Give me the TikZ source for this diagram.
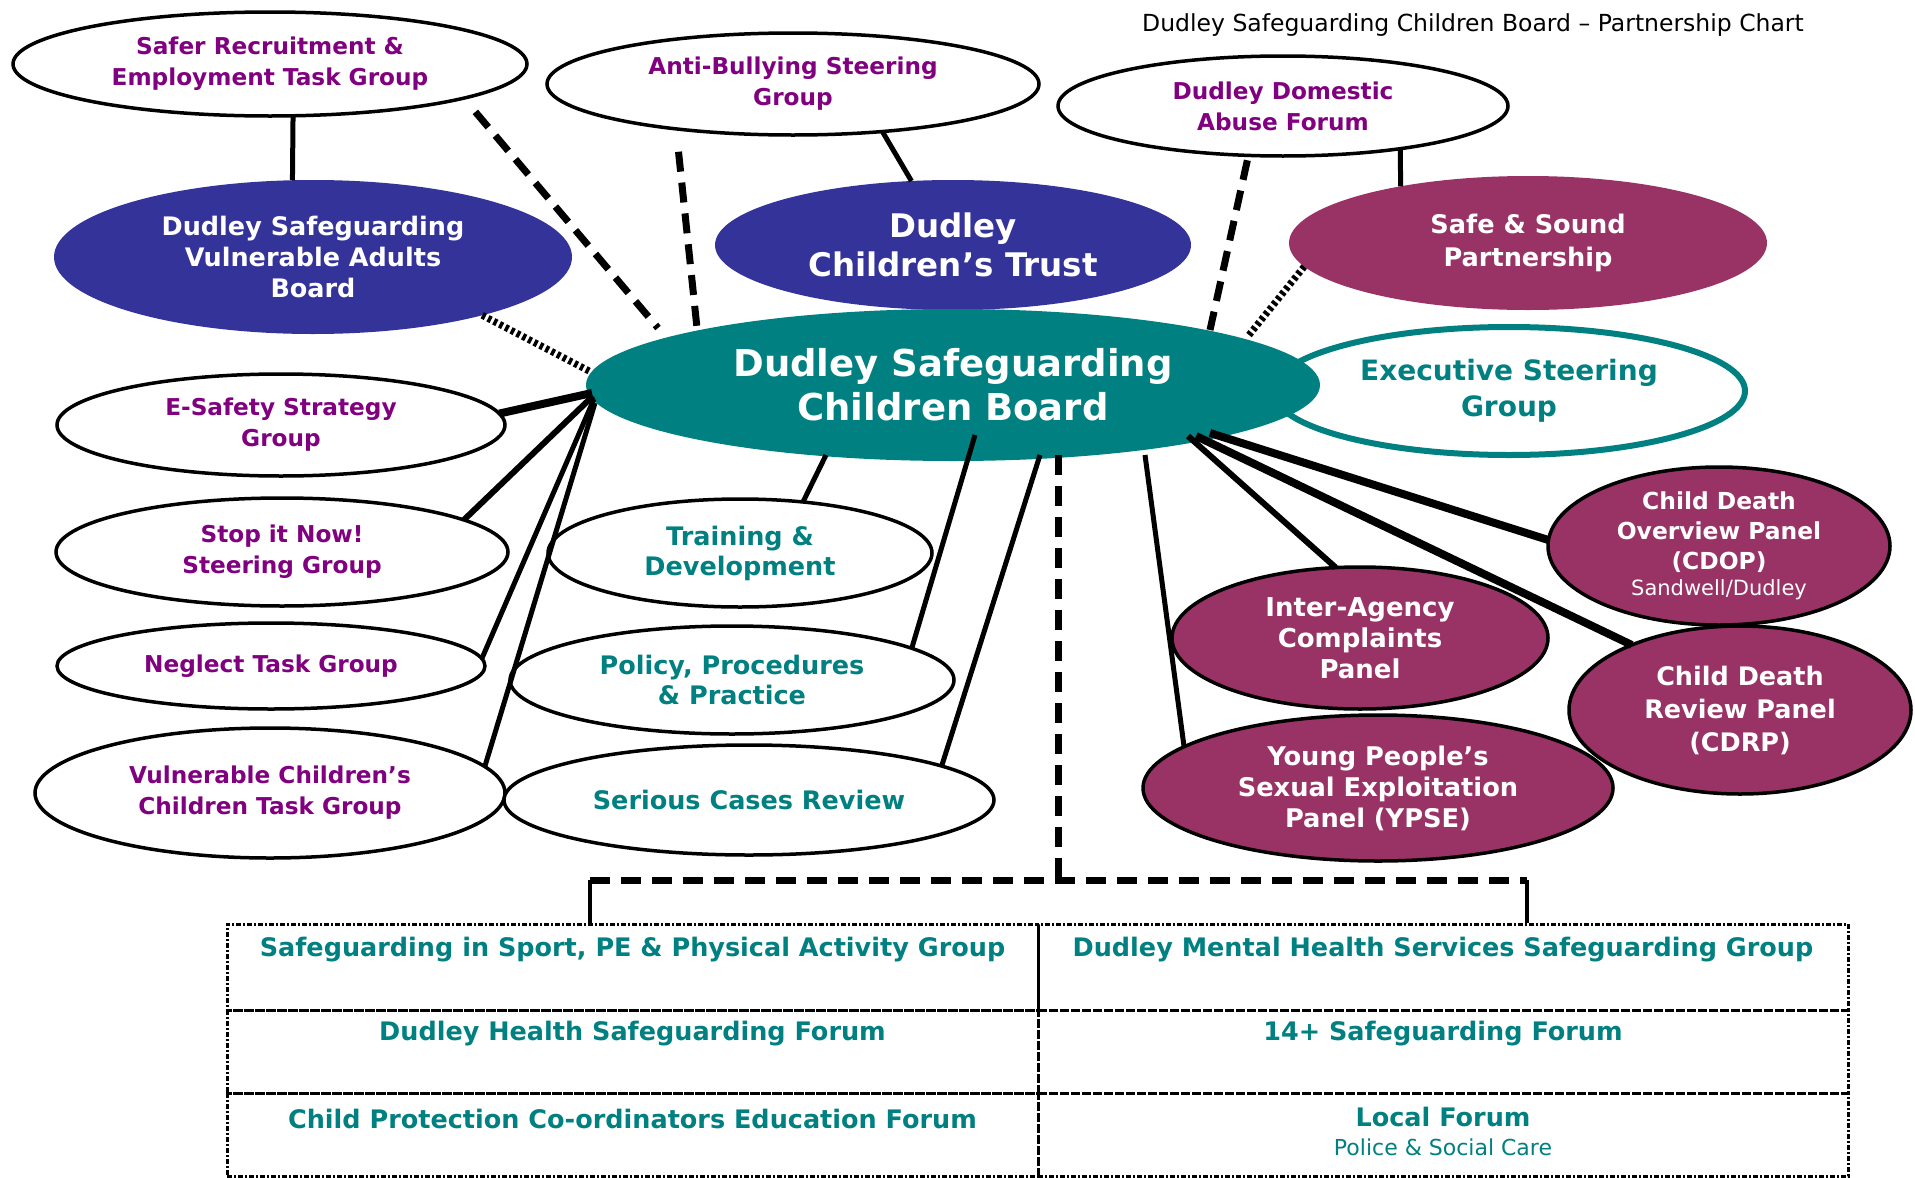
\documentclass[tikz,border=0pt]{standalone}
\usepackage{fontspec}
\setmainfont{DejaVu Sans}
\usetikzlibrary{shapes.geometric}
\definecolor{dblue}{RGB}{51,51,153}
\definecolor{dteal}{RGB}{0,128,128}
\definecolor{dmaroon}{RGB}{153,51,102}
\definecolor{dpurple}{RGB}{128,0,128}
\newcommand\myfs[2]{\fontsize{#1}{#2}\selectfont}
\begin{document}
\begin{tikzpicture}[x=1pt,y=-1pt,
  ell/.style={ellipse, inner sep=0pt, outer sep=0pt, align=center},
  wgrp/.style={ell, draw=black, line width=3.5pt, fill=white, text=dpurple, font=\bfseries\myfs{23.2}{31}},
  tgrp/.style={ell, draw=black, line width=3.5pt, fill=white, text=dteal, font=\bfseries\myfs{25.5}{30}},
  bluef/.style={ell, fill=dblue, text=white},
  maroonf/.style={ell, fill=dmaroon, text=white},
  mpanel/.style={ell, fill=dmaroon, draw=black, line width=3.5pt, text=white},
  link/.style={line width=5pt},
  dlink/.style={line width=7pt, dash pattern=on 20pt off 11pt},
  olink/.style={line width=7pt, dash pattern=on 3.5pt off 3pt},
  cell/.style={rectangle, draw=black, line width=3pt, dash pattern=on 5pt off 2pt on 2pt off 2pt, inner sep=0pt},
  celltext/.style={text=dteal, font=\bfseries\myfs{25.5}{29}, align=center}]
\useasboundingbox (0,0) rectangle (1915,1178);
\fill[white] (0,0) rectangle (1915,1178);

\node[font=\myfs{23.5}{28}] (title) at (1473,25) {Dudley Safeguarding Children Board – Partnership Chart};

% top white groups
\node[wgrp, minimum width=514pt, minimum height=104pt] (saferrec) at (270,64) {Safer Recruitment \&\\Employment Task Group};
\node[wgrp, minimum width=492pt, minimum height=102pt] (antibully) at (793,84) {Anti-Bullying Steering\\Group};
\node[wgrp, minimum width=450pt, minimum height=100pt] (domabuse) at (1283,106) {Dudley Domestic\\Abuse Forum};

% filled boards
\node[bluef, minimum width=518pt, minimum height=154pt, font=\bfseries\myfs{25.5}{31}] (dsvab) at (313,257) {Dudley Safeguarding\\Vulnerable Adults\\Board};
\node[bluef, minimum width=476pt, minimum height=130pt, font=\bfseries\myfs{32.5}{39}] (trust) at (953,245) {Dudley\\Children’s Trust};
\node[maroonf, minimum width=478pt, minimum height=134pt, font=\bfseries\myfs{25.6}{33}] (safesound) at (1528,243) {Safe \& Sound\\Partnership};
\node[ell, draw=dteal, line width=6pt, fill=white, text=dteal, minimum width=472pt, minimum height=128pt, font=\bfseries\myfs{28}{36}] (exec) at (1509,391) {Executive Steering\\Group};
\node[ell, fill=dteal, text=white, minimum width=734pt, minimum height=152pt, font=\bfseries\myfs{37}{44}] (dscb) at (953,385) {Dudley Safeguarding\\Children Board};

% left white groups
\node[wgrp, minimum width=448pt, minimum height=102pt] (esafety) at (281,425) {E-Safety Strategy\\Group};
\node[wgrp, minimum width=452pt, minimum height=108pt] (stopit) at (282,552) {Stop it Now!\\Steering Group};
\node[wgrp, minimum width=428pt, minimum height=86pt] (neglect) at (271,666) {Neglect Task Group};
\node[wgrp, minimum width=470pt, minimum height=130pt] (vulnchild) at (270,793) {Vulnerable Children’s\\Children Task Group};

% teal-text groups
\node[tgrp, minimum width=384pt, minimum height=108pt] (training) at (740,553) {Training \&\\Development};
\node[tgrp, minimum width=444pt, minimum height=108pt] (policy) at (732,680) {Policy, Procedures\\\& Practice};
\node[tgrp, minimum width=490pt, minimum height=110pt] (serious) at (749,800) {Serious Cases Review};

% maroon panels
\node[mpanel, minimum width=342pt, minimum height=158pt, font=\bfseries\myfs{23.4}{30}] (cdop) at (1719,546) {Child Death\\Overview Panel\\(CDOP)\\[-4pt]{\mdseries\myfs{21}{26}Sandwell/Dudley}};
\node[mpanel, minimum width=342pt, minimum height=168pt, font=\bfseries\myfs{25.5}{33}] (cdrp) at (1740,710) {Child Death\\Review Panel\\(CDRP)};
\node[mpanel, minimum width=376pt, minimum height=142pt, font=\bfseries\myfs{26}{31}] (interagency) at (1360,638) {Inter-Agency\\Complaints\\Panel};
\node[mpanel, minimum width=470pt, minimum height=146pt, font=\bfseries\myfs{25.7}{31}] (ypse) at (1378,788) {Young People’s\\Sexual Exploitation\\Panel (YPSE)};

% table of forums
\node[cell, minimum width=811pt, minimum height=86pt] (c11) at (632.5,967) {};
\node[cell, minimum width=810pt, minimum height=86pt] (c12) at (1443,967) {};
\node[cell, minimum width=811pt, minimum height=83pt] (c21) at (632.5,1051.5) {};
\node[cell, minimum width=810pt, minimum height=83pt] (c22) at (1443,1051.5) {};
\node[cell, minimum width=811pt, minimum height=83pt] (c31) at (632.5,1134.5) {};
\node[cell, minimum width=810pt, minimum height=83pt] (c32) at (1443,1134.5) {};
\node[celltext] (t11) at ([yshift=-27pt]c11.north) {Safeguarding in Sport, PE \& Physical Activity Group};
\node[celltext] (t12) at ([yshift=-27pt]c12.north) {Dudley Mental Health Services Safeguarding Group};
\node[celltext] (t21) at ([yshift=-25pt]c21.north) {Dudley Health Safeguarding Forum};
\node[celltext] (t22) at ([yshift=-25pt]c22.north) {14+ Safeguarding Forum};
\node[celltext] (t31) at ([yshift=-27pt]c31.north) {Child Protection Co-ordinators Education Forum};
\node[celltext, anchor=north] (t32) at ([yshift=-12pt]c32.north) {Local Forum\\{\mdseries\myfs{22}{29}Police \& Social Care}};

% connectors
\draw[link] (saferrec.294) -- (dsvab.105);
\draw[link] (antibully.332) -- (trust.123);
\draw[link] (domabuse.340) -- (safesound.156);
\draw[dlink, shorten <=18pt] (saferrec.350) -- ([shift={(-295,-57)}]dscb.center);
\draw[dlink, shorten <=23pt] (antibully.201) -- ([shift={(-256,-57)}]dscb.center);
\draw[dlink, shorten <=5pt] (domabuse.235) -- ([shift={(257,-55)}]dscb.center);
\draw[olink] (safesound.186) -- ([shift={(296,-50)}]dscb.center);
\draw[olink] (dsvab.341) -- ([shift={(-362,-13)}]dscb.center);
\draw[line width=8pt] (esafety.3) -- ([shift={(-361,8)}]dscb.center);
\draw[line width=6pt] (stopit.10) -- ([shift={(-360,11)}]dscb.center);
\draw[link] (neglect.2) -- ([shift={(-359,14)}]dscb.center);
\draw[link] (vulnchild.7) -- ([shift={(-358,18)}]dscb.center);
\draw[link] (training.39) -- ([shift={(-127,70)}]dscb.center);
\draw[link] (policy.10) -- ([shift={(22,50)}]dscb.center);
\draw[link] (serious.10) -- ([shift={(87,70)}]dscb.center);
\draw[link] (ypse.168) -- ([shift={(192,70)}]dscb.center);
\draw[line width=6pt] (interagency.109) -- ([shift={(235,51)}]dscb.center);
\draw[line width=8pt] (cdrp.149) -- ([shift={(243,51)}]dscb.center);
\draw[line width=8pt] (cdop.178) -- ([shift={(257,48)}]dscb.center);

\coordinate (j) at (1058,880);
\coordinate (jl) at (590,880);
\coordinate (jr) at (1527,880);
\draw[dlink] ([shift={(105,70)}]dscb.center) -- (j);
\draw[dlink] (jl) -- (jr);
\draw[line width=4pt] (jl) -- (jl |- c11.north);
\draw[line width=4pt] (jr) -- (jr |- c12.north);
\end{tikzpicture}
\end{document}
